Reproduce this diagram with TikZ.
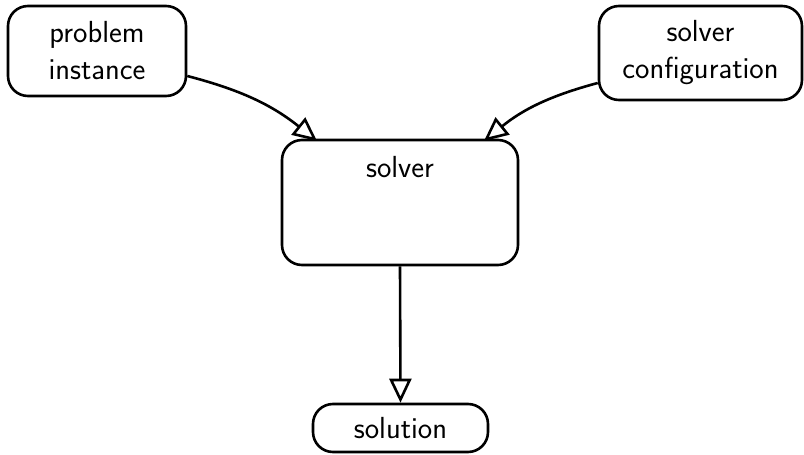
\documentclass[tikz,border=0pt]{standalone}
\usetikzlibrary{arrows.meta}
\begin{document}
\begin{tikzpicture}[x=1pt,y=-1pt,
  box/.style={draw, line width=2.6pt, rounded corners=20pt, align=center,
    font=\sffamily\fontsize{30.5}{37}\selectfont, inner sep=0pt},
  conn/.style={line width=2.6pt, -{Triangle[open, length=24pt, width=22pt, line width=2.6pt]}}]
\useasboundingbox (0,0) rectangle (804,455);
\node[box, minimum width=178pt, minimum height=90pt] (prob) at (97,51) {problem\\instance};
\node[box, minimum width=203pt, minimum height=94pt] (conf) at (700.5,53) {solver\\configuration};
\node[box, minimum width=236pt, minimum height=125pt] (solver) at (400,202.5) {};
\node[anchor=base, font=\sffamily\fontsize{30.5}{37}\selectfont, inner sep=0pt] (solvertxt) at (400,177) {solver};
\node[box, minimum width=175pt, minimum height=48pt] (sol) at (400.5,428) {solution};
\coordinate (pin) at (317,141);
\coordinate (cin) at (484,141);
\draw[conn] (prob.east |- 0,76) to[bend left=12] (pin);
\draw[conn] (conf.west |- 0,83) to[bend right=12] (cin);
\draw[conn] (solver.south) -- (sol.north);
\end{tikzpicture}
\end{document}
